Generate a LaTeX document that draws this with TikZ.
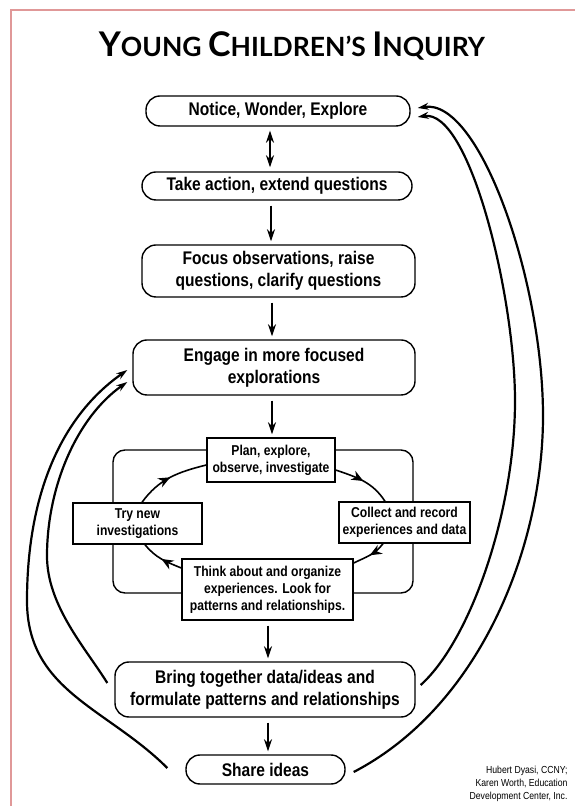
\documentclass[tikz,border=0pt]{standalone}
\usepackage{fontspec}
\newfontfamily\boxfont[FakeStretch=0.85]{Liberation Sans}
\newfontfamily\titlefont{Lato}
\usepackage{tikz}
\usetikzlibrary{arrows.meta,decorations.markings}
\definecolor{framepink}{RGB}{224,152,152}
\newcommand{\ttlcap}[2]{{\fontsize{34}{34}\selectfont #1}{\fontsize{26.5}{26.5}\selectfont #2}}

\begin{document}
\begin{tikzpicture}[x=1pt, y=1pt, >={Stealth[length=12pt,width=8pt]},
  stage/.style={draw, line width=1.4pt, rounded corners=14pt, fill=white, align=center, inner sep=0pt,
    font=\boxfont\bfseries\fontsize{18.3}{22}\selectfont},
  phase/.style={draw, line width=1.4pt, fill=white, align=center, inner sep=0pt,
    font=\boxfont\bfseries\fontsize{14.3}{17}\selectfont},
  flow/.style={->, line width=2.2pt, shorten <=5pt, shorten >=3pt},
  feedback/.style={->, >={Stealth[length=11pt,width=7pt]}, line width=2.2pt},
  cyc/.style={line width=1.6pt, postaction={decorate},
    decoration={markings, mark=at position 0.5 with {\arrow{Stealth[length=12pt,width=10pt]}}}}]
\useasboundingbox (0,0) rectangle (575,806);
\draw[framepink, line width=2pt] (11,0) -- (11,796) -- (575,796);

\node[anchor=base, font=\titlefont\bfseries\fontsize{26.5}{26.5}\selectfont] (title) at (292,749)
  {\ttlcap{Y}{OUNG} \ttlcap{C}{HILDREN’S} \ttlcap{I}{NQUIRY}};

\node[stage, minimum width=264pt, minimum height=30pt] (notice) at (278,695) {Notice, Wonder, Explore};
\node[stage, minimum width=270pt, minimum height=28pt] (take) at (277,620) {Take action, extend questions};
\node[stage, minimum width=273pt, minimum height=52pt] (focus) at (278.5,535) {Focus observations, raise\\questions, clarify questions};
\node[stage, minimum width=282pt, minimum height=55pt] (engage) at (274,438.5) {Engage in more focused\\explorations};

\node[draw, line width=1.4pt, rounded corners=12pt, minimum width=300pt, minimum height=143pt] (loopframe) at (263,284.5) {};
\node[phase, minimum width=128pt, minimum height=44pt] (plan) at (271,346) {Plan, explore,\\observe, investigate};
\node[phase, minimum width=131pt, minimum height=41pt] (collect) at (404.5,283.5) {Collect and record\\experiences and data};
\node[phase, minimum width=171pt, minimum height=61pt] (think) at (267.5,216.5) {Think about and organize\\experiences. Look for\\patterns and relationships.};
\node[phase, minimum width=129pt, minimum height=41pt] (trynew) at (137.5,282.5) {Try new\\investigations};

\node[stage, minimum width=300pt, minimum height=55pt] (bring) at (265,116.5) {Bring together data/ideas and\\formulate patterns and relationships};
\node[stage, minimum width=159pt, minimum height=29pt] (share) at (265.5,36.5) {Share ideas};

\node[anchor=east, align=right, font=\boxfont\fontsize{10.2}{13}\selectfont] (credit) at (571,22)
  {Hubert Dyasi, CCNY;\\Karen Worth, Education\\Development Center, Inc.};

\draw[flow, <->, shorten <=4pt, shorten >=4pt] ([xshift=-8pt]notice.south) -- ([xshift=-7pt]take.north);
\foreach \a/\da/\b/\db in {take/-6/focus/-7.5, focus/-6.5/engage/-2, engage/-2/plan/1, think/0.5/bring/3, bring/3/share/2.5}
  \draw[flow] ([xshift=\da pt]\a.south) -- ([xshift=\db pt]\b.north);

\draw[cyc] ([yshift=-10pt]plan.east) to[out=-19,in=123] ([xshift=-19.5pt]collect.north);
\draw[cyc] ([xshift=-21.5pt]collect.south) to[out=-127,in=26] ([yshift=26.5pt]think.east);
\draw[cyc] ([yshift=21.5pt]think.west) to[out=158,in=-51] ([xshift=7.5pt]trynew.south);
\draw[cyc] ([xshift=4.5pt]trynew.north) to[out=54,in=-166] ([yshift=-5pt]plan.west);

\coordinate (rout) at (543,390);
\coordinate (rin) at (515,405);
\coordinate (lout) at (27,205);
\coordinate (lin) at (47,250);
\draw[feedback] ([xshift=8pt,yshift=-2.5pt]share.east) .. controls +(127,66) and +(0,-130) .. (rout)
  .. controls +(0,135) and +(62,10) .. ([xshift=7pt,yshift=3pt]notice.east);
\draw[feedback] ([xshift=5pt,yshift=4.5pt]bring.east) .. controls +(50,45) and +(0,-110) .. (rin)
  .. controls +(0,105) and +(52,8) .. ([xshift=7pt,yshift=-6pt]notice.east);
\draw[feedback] ([xshift=-18pt,yshift=1.5pt]share.west) .. controls +(-60,60) and +(0,-90) .. (lout)
  .. controls +(0,100) and +(-70,-49) .. ([xshift=-5pt,yshift=-2.5pt]engage.west);
\draw[feedback] ([xshift=-7pt,yshift=6.5pt]bring.west) .. controls +(-21,34) and +(0,-50) .. (lin)
  .. controls +(0,70) and +(-50,-35) .. ([xshift=-5pt,yshift=-14.5pt]engage.west);
\end{tikzpicture}
\end{document}
